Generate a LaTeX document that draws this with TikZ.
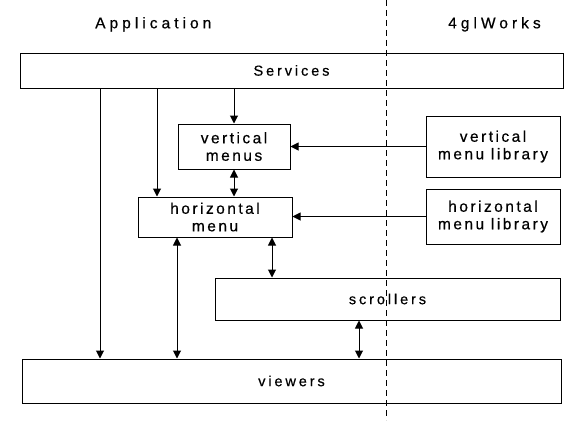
\documentclass[tikz,border=0pt]{standalone}
\usepackage{fontspec}
\setmainfont{Liberation Sans}[LetterSpace=20, FakeBold=0.5]
\newfontfamily\multifont{Liberation Sans}[LetterSpace=16, FakeBold=0.5]
\newfontfamily\headfont{Liberation Sans}[LetterSpace=26, FakeBold=0.5]
\usetikzlibrary{arrows.meta}
\begin{document}
\begin{tikzpicture}[x=1pt,y=-1pt,
  box/.style={draw, line width=1pt, inner sep=0pt, align=center, font=\fontsize{14.5}{17}\selectfont},
  mbox/.style={box, font=\multifont\fontsize{15.5}{17.5}\selectfont},
  head/.style={font=\headfont\fontsize{15.5}{18}\selectfont, inner sep=0pt, anchor=base west},
  arr/.style={line width=1pt, -{Triangle[length=8pt,width=8pt]}},
  darr/.style={line width=1pt, {Triangle[length=8pt,width=8pt]}-{Triangle[length=8pt,width=8pt]}},
  sep/.style={line width=1pt, dash pattern=on 6pt off 4pt}]
\useasboundingbox (0,0) rectangle (585,420);
\node[head] (app) at (95,28.3) {Application};
\node[head] (gw) at (448,28.3) {4glWorks};
\coordinate (dtop) at (386,0);
\coordinate (dbot) at (386,420);
\draw[sep] (dtop) -- (dbot);
\node[box, minimum width=543pt, minimum height=35pt] (services) at (291.5,70.5) {Services};
\node[mbox, minimum width=112pt, minimum height=45pt] (vmenus) at (234,146.5) {vertical\\menus};
\node[mbox, minimum width=154pt, minimum height=40pt] (hmenu) at (215,217) {horizontal\\menu};
\node[mbox, minimum width=134pt, minimum height=61pt] (vlib) at (493,146.5) {vertical\\menu library};
\node[mbox, minimum width=134pt, minimum height=55pt] (hlib) at (493,216.5) {horizontal\\menu library};
\node[box, minimum width=345pt, minimum height=42pt] (scrollers) at (387.5,299) {scrollers};
\node[box, minimum width=539pt, minimum height=44pt] (viewers) at (291.5,381) {viewers};
\coordinate (xa) at (100,0);
\coordinate (xb) at (157,0);
\coordinate (xc) at (234,0);
\coordinate (xd) at (177,0);
\coordinate (xe) at (272,0);
\coordinate (xf) at (359,0);
\draw[arr] (services.south -| xa) -- (viewers.north -| xa);
\draw[arr] (services.south -| xb) -- (hmenu.north -| xb);
\draw[arr] (services.south -| xc) -- (vmenus.north -| xc);
\draw[darr] (vmenus.south -| xc) -- (hmenu.north -| xc);
\draw[arr] (vlib.west) -- (vlib.west -| vmenus.east);
\draw[arr] (hlib.west) -- (hlib.west -| hmenu.east);
\draw[darr] (hmenu.south -| xd) -- (viewers.north -| xd);
\draw[darr] (hmenu.south -| xe) -- (scrollers.north -| xe);
\draw[darr] (scrollers.south -| xf) -- (viewers.north -| xf);
\end{tikzpicture}
\end{document}
